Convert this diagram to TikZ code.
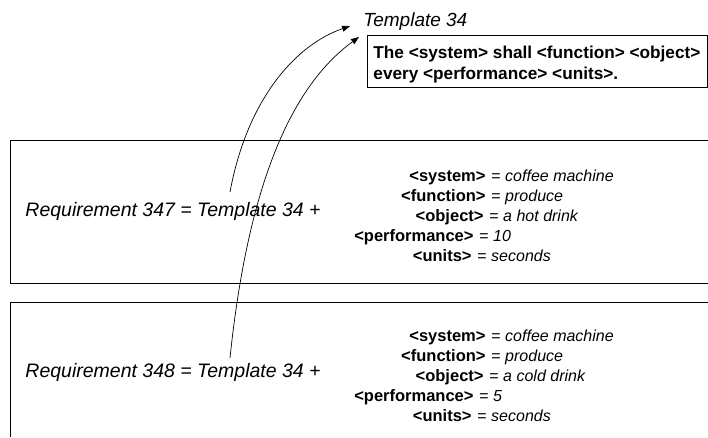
\documentclass[tikz,border=0pt]{standalone}
\usepackage{fontspec}
\setmainfont{Liberation Sans}
\usetikzlibrary{arrows.meta}

\begin{document}
\begin{tikzpicture}[x=1pt,y=-1pt,line width=0.9pt,
	key/.style={anchor=base east,inner sep=0pt,font=\fontsize{16.5}{18}\selectfont\bfseries},
	val/.style={anchor=base west,inner sep=0pt,font=\fontsize{16}{18}\selectfont},
	req/.style={anchor=base west,inner sep=0pt,font=\fontsize{19.5}{22}\selectfont\itshape},
	line/.style={anchor=base west,inner sep=0pt,font=\fontsize{17.2}{21}\selectfont\bfseries},
	link/.style={-{Triangle[length=8pt,width=6pt]},line width=0.7pt}]
		\useasboundingbox (0,0) rectangle (708,437);

		% the template
		\node[req,font=\fontsize{19}{22}\selectfont\itshape] (tmpl) at (363,26) {Template 34};
		\node[draw,anchor=north west,minimum width=340pt,minimum height=52pt,inner sep=0pt] (tbox) at (367,35) {};
		\node[line] (tl1) at (373,58) {The <system> shall <function> <object>};
		\node[line] (tl2) at (373,79) {every <performance> <units>.};

		% requirement 347
		\draw (708,140) -- (10,140) -- (10,283) -- (708,283);
		\node[req] (req1) at (25,216) {Requirement 347 = Template 34 +};
		\node[key] (sys1) at (486,181) {<system>};
		\node[key] (fun1) at (486,201) {<function>};
		\node[key] (obj1) at (484,221) {<object>};
		\node[key] (per1) at (474,241) {<performance>};
		\node[key] (uni1) at (472,261) {<units>};
		\node[val] (sysv1) at (491,181) {= \textit{coffee machine}};
		\node[val] (funv1) at (491,201) {= \textit{produce}};
		\node[val] (objv1) at (489,221) {= \textit{a hot drink}};
		\node[val] (perv1) at (479,241) {= \textit{10}};
		\node[val] (univ1) at (477,261) {= \textit{seconds}};

		% requirement 348
		\draw (708,302) -- (10,302) -- (10,437);
		\node[req] (req2) at (25,377) {Requirement 348 = Template 34 +};
		\node[key] (sys2) at (486,341) {<system>};
		\node[key] (fun2) at (486,361) {<function>};
		\node[key] (obj2) at (484,381) {<object>};
		\node[key] (per2) at (474,401) {<performance>};
		\node[key] (uni2) at (472,421) {<units>};
		\node[val] (sysv2) at (491,341) {= \textit{coffee machine}};
		\node[val] (funv2) at (491,361) {= \textit{produce}};
		\node[val] (objv2) at (489,381) {= \textit{a cold drink}};
		\node[val] (perv2) at (479,401) {= \textit{5}};
		\node[val] (univ2) at (477,421) {= \textit{seconds}};

		% links back to the template
		\coordinate (from1) at (230,192);
		\coordinate (from2) at (230,358);
		\draw[link] (from1) .. controls (247,100) and (295,45) .. ([shift={(-13pt,-5pt)}]tmpl.west);
		\draw[link] (from2) .. controls (250,165) and (300,80) .. ([shift={(-8pt,-2pt)}]tbox.north west);
	\end{tikzpicture}
\end{document}
